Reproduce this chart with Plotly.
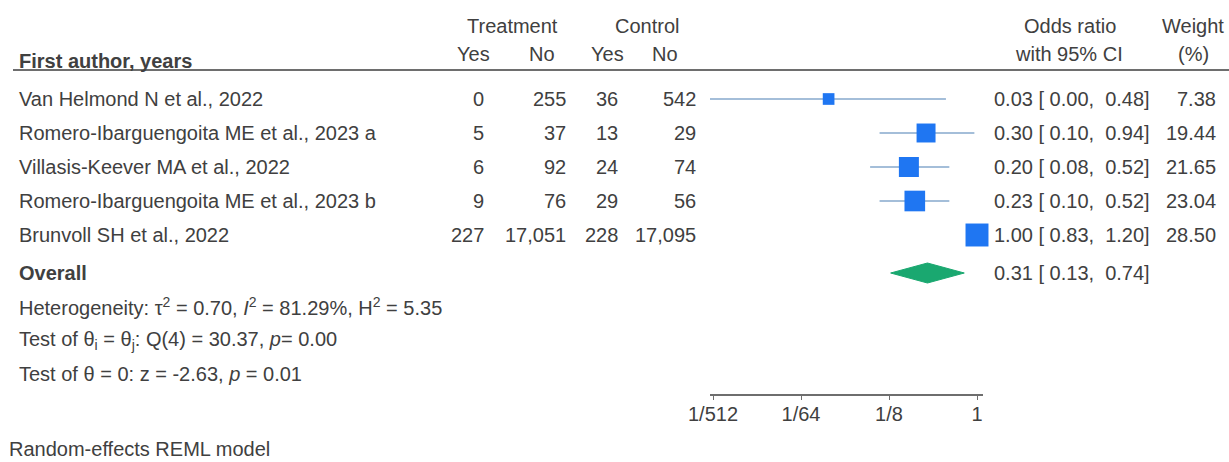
import math
import plotly.graph_objects as go

# ---- data -------------------------------------------------------------
studies = [
    "Van Helmond N et al., 2022",
    "Romero-Ibarguengoita ME et al., 2023 a",
    "Villasis-Keever MA et al., 2022",
    "Romero-Ibarguengoita ME et al., 2023 b",
    "Brunvoll SH et al., 2022",
]
treat_yes = [0, 5, 6, 9, 227]
treat_no = [255, 37, 92, 76, 17051]
ctrl_yes = [36, 13, 24, 29, 228]
ctrl_no = [542, 29, 74, 56, 17095]
odds_ratio = [0.03, 0.30, 0.20, 0.23, 1.00]
ci_low = [0.0018, 0.10, 0.08, 0.10, 0.83]
ci_high = [0.48, 0.94, 0.52, 0.52, 1.20]
weights = [7.38, 19.44, 21.65, 23.04, 28.50]

overall_or = 0.31
overall_low = 0.13
overall_high = 0.74

tick_vals = [1 / 512, 1 / 64, 1 / 8, 1]
tick_text = ["1/512", "1/64", "1/8", "1"]

stats_lines = [
    "Heterogeneity: τ<sup>2</sup> = 0.70, <i>I</i><sup>2</sup> = 81.29%, H<sup>2</sup> = 5.35",
    "Test of θ<sub>i</sub> = θ<sub>j</sub>: Q(4) = 30.37, <i>p</i>= 0.00",
    "Test of θ = 0: z = -2.63, <i>p</i> = 0.01",
]
footnote = "Random-effects REML model"

# ---- layout constants -------------------------------------------------
W, H = 1229, 462
FONT = "Liberation Sans, Arial, Helvetica, sans-serif"
FS = 20
TXT = "#404040"
SQUARE = "#1f76f2"
WHISKER = "#86a9cc"
DIAMOND = "#1aa870"

PITCH = 34.0            # pixels between study rows
FIRST_ROW_PX = 99.0     # pixel centre of first study row
Y_TOP = -FIRST_ROW_PX / PITCH
Y_BOTTOM = (H - FIRST_ROW_PX) / PITCH


def row(px):
    """Row-unit position for a pixel height."""
    return (px - FIRST_ROW_PX) / PITCH


def xp(px):
    return px / W


# plot region for the odds-ratio scale
AX_L, AX_R = 710, 983
T_LO_PX, T_HI_PX = 713, 977
ppd = (T_HI_PX - T_LO_PX) / (math.log10(1) - math.log10(1 / 512))
x_range = [math.log10(1 / 512) - (T_LO_PX - AX_L) / ppd,
           math.log10(1) + (AX_R - T_HI_PX) / ppd]

study_rows = list(range(len(studies)))
overall_row = row(273)
stats_rows = [row(306), row(340), row(374)]
axis_px = 395

fig = go.Figure()

# confidence-interval whiskers
for r, lo, hi in zip(study_rows, ci_low, ci_high):
    fig.add_trace(go.Scatter(
        x=[lo, hi], y=[r, r], mode="lines",
        line=dict(color=WHISKER, width=1.6),
        hoverinfo="skip", showlegend=False))

# weighted squares
fig.add_trace(go.Scatter(
    x=odds_ratio, y=study_rows, mode="markers",
    marker=dict(symbol="square", color=SQUARE, opacity=1,
                size=[4.3 * math.sqrt(w) for w in weights],
                line=dict(width=0)),
    cliponaxis=False, showlegend=False,
    hovertext=studies, hoverinfo="text+x"))

# pooled estimate diamond
half_h = 10 / PITCH
fig.add_trace(go.Scatter(
    x=[overall_low, overall_or, overall_high, overall_or, overall_low],
    y=[overall_row, overall_row - half_h, overall_row,
       overall_row + half_h, overall_row],
    mode="lines", fill="toself", fillcolor=DIAMOND,
    line=dict(color=DIAMOND, width=1),
    hoverinfo="skip", showlegend=False))

ann = []


def text(x_px, y, s, anchor="left", bold=False, size=FS):
    ann.append(dict(
        x=xp(x_px), y=y, xref="paper", yref="y",
        text=f"<b>{s}</b>" if bold else s,
        xanchor=anchor, yanchor="middle", showarrow=False,
        font=dict(family=FONT, size=size, color=TXT)))


# header
text(17, row(61), "First author, years", bold=True)
text(512, row(26), "Treatment", "center")
text(647, row(26), "Control", "center")
text(473, row(54), "Yes", "center")
text(542, row(54), "No", "center")
text(607, row(54), "Yes", "center")
text(665, row(54), "No", "center")
text(1070, row(26), "Odds ratio", "center")
text(1069, row(54), "with 95% CI", "center")
text(1193, row(26), "Weight", "center")
text(1193, row(54), "(%)", "center")

# study rows
for i, r in enumerate(study_rows):
    text(17, r, studies[i])
    text(486, r, f"{treat_yes[i]:,}", "right")
    text(568, r, f"{treat_no[i]:,}", "right")
    text(620, r, f"{ctrl_yes[i]:,}", "right")
    text(698, r, f"{ctrl_no[i]:,}", "right")
    text(992, r, f"{odds_ratio[i]:.2f} [ {ci_low[i]:.2f},  {ci_high[i]:.2f}]")
    text(1218, r, f"{weights[i]:.2f}", "right")

text(17, overall_row, "Overall", bold=True)
text(992, overall_row,
     f"{overall_or:.2f} [ {overall_low:.2f},  {overall_high:.2f}]")

for r, s in zip(stats_rows, stats_lines):
    text(17, r, s)

text(7, row(449), footnote)

fig.update_layout(
    width=W, height=H,
    margin=dict(l=0, r=0, t=0, b=0, autoexpand=False),
    paper_bgcolor="white", plot_bgcolor="rgba(0,0,0,0)",
    annotations=ann,
    shapes=[dict(type="line", xref="paper", yref="y",
                 x0=xp(13), x1=1, y0=row(70), y1=row(70),
                 line=dict(color="#6e6e6e", width=2))],
    xaxis=dict(
        type="log", range=x_range,
        domain=[xp(AX_L), xp(AX_R)],
        anchor="free", position=(H - axis_px) / H,
        showgrid=False, zeroline=False,
        showline=True, linecolor="#6e6e6e", linewidth=1.5,
        ticks="outside", ticklen=4, tickcolor="#6e6e6e", tickwidth=1,
        ticklabelstandoff=-3,
        tickvals=tick_vals, ticktext=tick_text,
        tickfont=dict(family=FONT, size=FS, color=TXT),
        automargin=False, fixedrange=True),
    yaxis=dict(
        range=[Y_BOTTOM, Y_TOP], domain=[0, 1],
        visible=False, automargin=False, fixedrange=True),
    showlegend=False,
)

fig.write_html("out.html")
